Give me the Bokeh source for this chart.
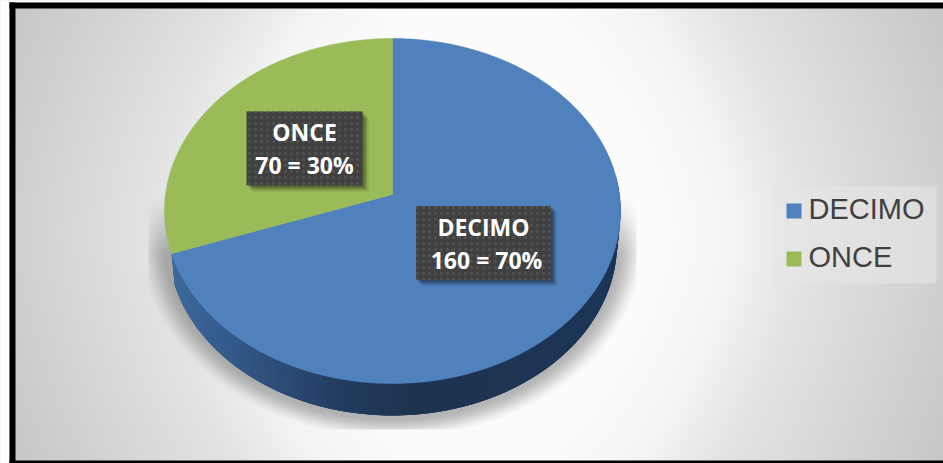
import numpy as np
from bokeh.plotting import figure
from bokeh.models import Range1d
from bokeh.core.properties import value
from bokeh.embed import file_html
from bokeh.resources import INLINE

categories = ["DECIMO", "ONCE"]
values = [160, 70]
slice_labels = ["160 = 70%", "70 = 30%"]
colors = ["#4f81bd", "#9bbb59"]

W, H = 943, 463
LABEL_FONT = value("Open Sans")
LEGEND_FONT = value("Liberation Sans")


def Y(py):
    return H - np.asarray(py, dtype=float)


p = figure(width=W, height=H, output_backend="svg", toolbar_location=None,
           x_range=Range1d(0, W), y_range=Range1d(0, H),
           min_border=0, outline_line_color=None, background_fill_color="white",
           border_fill_color="white")
p.xaxis.visible = False
p.yaxis.visible = False
p.grid.visible = False


def rgba_image(rgb, alpha):
    img = np.zeros(rgb.shape[:2], dtype=np.uint32)
    view = img.view(dtype=np.uint8).reshape((*rgb.shape[:2], 4))
    view[..., :3] = rgb
    view[..., 3] = alpha
    return img


# background gradient
gx, gy = np.meshgrid(np.arange(W) + .5, np.arange(H) + .5)
dx = np.abs(gx - 478) / 465
dy = np.abs(gy - 232) / 225 * 0.35
d = (dx ** 1.5 + dy ** 1.5) ** (1 / 1.5)
level = np.interp(d, [0, .4, .55, .7, 1, 1.2], [255, 252, 245, 228, 208, 195])
rgb = np.repeat(level[..., None], 3, axis=2).astype(np.uint8)
alpha = np.full(level.shape, 255, dtype=np.uint8)
bg = rgba_image(rgb[::-1], alpha)
p.image_rgba(image=[bg], x=[0], y=[0], dw=[W], dh=[H])

# soft shadow below the pie, clipped to a box
CX, VY, TOP_Y, FRONT_Y = 392.0, 194.0, 38.0, 383.0
back, front = VY - TOP_Y, FRONT_Y - VY
K = (back - front) / (back + front)
RY = back * (1 - K)
RX = 227.0
DEPTH = 32.0

sx0, sx1, sy0, sy1 = 148, 636, 195, 429
sub_x, sub_y = np.meshgrid(np.arange(sx0, sx1) + .5, np.arange(sy0, sy1) + .5)
r = np.sqrt(((sub_x - CX) / 255) ** 2 + ((sub_y - 240) / 200) ** 2)
edge = np.clip((1 - r) / .12, 0, 1)
edge = edge * edge * (3 - 2 * edge)
fade = np.clip((sub_y - 195) / 60, 0, 1)
sh_alpha = (255 * .36 * edge * fade).astype(np.uint8)
sh_rgb = np.full((*sh_alpha.shape, 3), 50, dtype=np.uint8)
shadow = rgba_image(sh_rgb[::-1], sh_alpha[::-1])
p.image_rgba(image=[shadow], x=[sx0], y=[H - sy1], dw=[sx1 - sx0], dh=[sy1 - sy0])


def project(t, f=1.0):
    """t in radians, clockwise from the top; f is the fraction of the radius."""
    u, v = np.sin(t) * f, -np.cos(t) * f
    w = 1 + K * v
    return CX + RX * u / w, VY + RY * v / w


total = sum(values)
starts = np.cumsum([0] + values[:-1]) / total * 2 * np.pi
ends = np.cumsum(values) / total * 2 * np.pi

# side wall, front half of the disc; bands overlap so that no seams show
wall_t = np.linspace(np.pi / 2 * 0.93, ends[0], 120)
wx, wy = project(wall_t)
wall_stops_x = [170, 230, 290, 350, 420, 620]
wall_stops = np.array([[0x3d, 0x69, 0x9c], [0x33, 0x5a, 0x8a], [0x2a, 0x49, 0x72],
                       [0x22, 0x3a, 0x5c], [0x1f, 0x33, 0x50], [0x1c, 0x36, 0x58]], float)
for i in range(len(wall_t) - 1):
    j = min(i + 3, len(wall_t) - 1)
    xs = [wx[i], wx[j], wx[j] * .985 + CX * .015, wx[i] * .985 + CX * .015]
    ys = [wy[i], wy[j], wy[j] + DEPTH, wy[i] + DEPTH]
    mx = (wx[i] + wx[i + 1]) / 2
    col = [int(np.interp(mx, wall_stops_x, wall_stops[:, c])) for c in range(3)]
    p.patch(xs, Y(ys), fill_color="#%02x%02x%02x" % tuple(col), line_color=None)

# top face of the slices
for s, e, c in zip(starts, ends, colors):
    t = np.linspace(s, e, 240)
    x, y = project(t)
    p.patch(np.r_[CX, x], Y(np.r_[VY, y]), fill_color=c, line_color=c, line_width=.5)

# data labels
BOX_H = 74
box_widths = [135, 116]
line2_shift = [3, -1]
for s, e, cat, lab, bw, sh in zip(starts, ends, categories, slice_labels, box_widths, line2_shift):
    lx, ly = project((s + e) / 2, .48)
    lx = round(lx) - (0 if sh > 0 else 1)
    l, r_, t_, b = lx - bw / 2, lx + bw / 2, ly - BOX_H / 2, ly + BOX_H / 2
    for off, a in ((6, .10), (4, .2), (2, .2)):
        p.quad(left=[l + off], right=[r_ + off], top=Y([t_ + off]), bottom=Y([b + off]),
               fill_color="black", fill_alpha=a, line_color=None)
    p.quad(left=[l], right=[r_], top=Y([t_]), bottom=Y([b]), fill_color="#404040",
           line_color=None, hatch_pattern="dot", hatch_color="#525252", hatch_scale=6,
           hatch_weight=1)
    p.text(x=[lx], y=Y([ly - 16]), text=[cat], text_color="white", text_font=LABEL_FONT,
           text_font_style="bold", text_font_size="23px", text_align="center",
           text_baseline="middle")
    p.text(x=[lx + max(sh, 0)], y=Y([ly + 17]), text=[lab], text_color="white", text_font=LABEL_FONT,
           text_font_style="bold", text_font_size="23px", text_align="center",
           text_baseline="middle")

# legend
p.quad(left=[773], right=[936], top=Y([186]), bottom=Y([283]), fill_color="#e6e6e6",
       fill_alpha=.6, line_color=None)
for i, (cat, c) in enumerate(zip(categories, colors)):
    py = 210.5 + 48 * i
    p.quad(left=[786], right=[801], top=Y([py - 7.5]), bottom=Y([py + 7.5]), fill_color=c,
           line_color=None)
    p.text(x=[808], y=Y([py - 2]), text=[cat], text_color="#404040", text_font=LEGEND_FONT,
           text_font_size="29px", text_baseline="middle")

# frame of the picture
p.quad(left=[0], right=[W], top=Y([0]), bottom=Y([2]), fill_color="white", line_color=None)
p.quad(left=[0], right=[9], top=Y([0]), bottom=Y([H]), fill_color="white", line_color=None)
p.quad(left=[9], right=[W], top=Y([2]), bottom=Y([8]), fill_color="black", line_color=None)
p.quad(left=[9], right=[15], top=Y([2]), bottom=Y([H]), fill_color="black", line_color=None)
p.quad(left=[9], right=[W], top=Y([460]), bottom=Y([H]), fill_color="black", line_color=None)

open("out.html", "w").write(file_html(p, INLINE))
